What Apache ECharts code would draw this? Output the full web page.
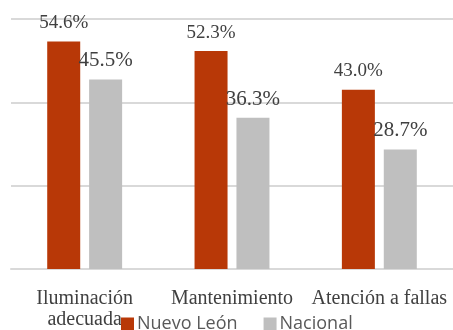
<!DOCTYPE html>
<html><head><meta charset="utf-8">
<script src="https://cdn.jsdelivr.net/npm/echarts@6/dist/echarts.min.js"></script>
<style>html,body{margin:0;padding:0;background:#fff}#c{width:453px;height:330px}</style>
</head><body><div id="c"></div>
<script>
const categories = ['Iluminación\nadecuada', 'Mantenimiento', 'Atención a fallas'];
const nuevoLeon = [54.6, 52.3, 43.0];
const nacional = [45.5, 36.3, 28.7];
const seriesNames = ['Nuevo León', 'Nacional'];

const chart = echarts.init(document.getElementById('c'));
const serif = '"Liberation Serif", "DejaVu Serif", serif';
chart.setOption({
  animation: false,
  grid: { left: 11, right: 0, top: 19, bottom: 56, containLabel: false },
  legend: {
    data: seriesNames,
    left: 116, top: 310,
    icon: 'rect', itemWidth: 13, itemHeight: 13, itemGap: 26,
    textStyle: { fontFamily: '"Open Sans", sans-serif', fontSize: 18, color: '#595959', padding: [0,0,0,-2] }
  },
  xAxis: {
    type: 'category', data: categories,
    axisLine: { lineStyle: { color: '#d9d9d9', width: 2 } },
    axisTick: { show: false },
    axisLabel: { interval: 0, margin: 19, fontFamily: serif, fontSize: 20, color: '#404040', lineHeight: 21 }
  },
  yAxis: {
    type: 'value', min: 0, max: 60, interval: 20,
    axisLabel: { show: false }, axisLine: { show: false }, axisTick: { show: false },
    splitLine: { lineStyle: { color: '#d9d9d9', width: 2 } }
  },
  series: [
    { name: seriesNames[0], type: 'bar', data: nuevoLeon, barWidth: 33, barGap: '27%',
      itemStyle: { color: '#B83807' },
      label: { show: true, position: 'top', distance: 9, formatter: p => p.value.toFixed(1) + '%',
        fontFamily: serif, fontSize: 19, color: '#404040' } },
    { name: seriesNames[1], type: 'bar', data: nacional, barWidth: 33,
      itemStyle: { color: '#BFBFBF' },
      label: { show: true, position: 'top', distance: 8, formatter: p => p.value.toFixed(1) + '%',
        fontFamily: serif, fontSize: 21, color: '#404040' } }
  ]
});
</script></body></html>
